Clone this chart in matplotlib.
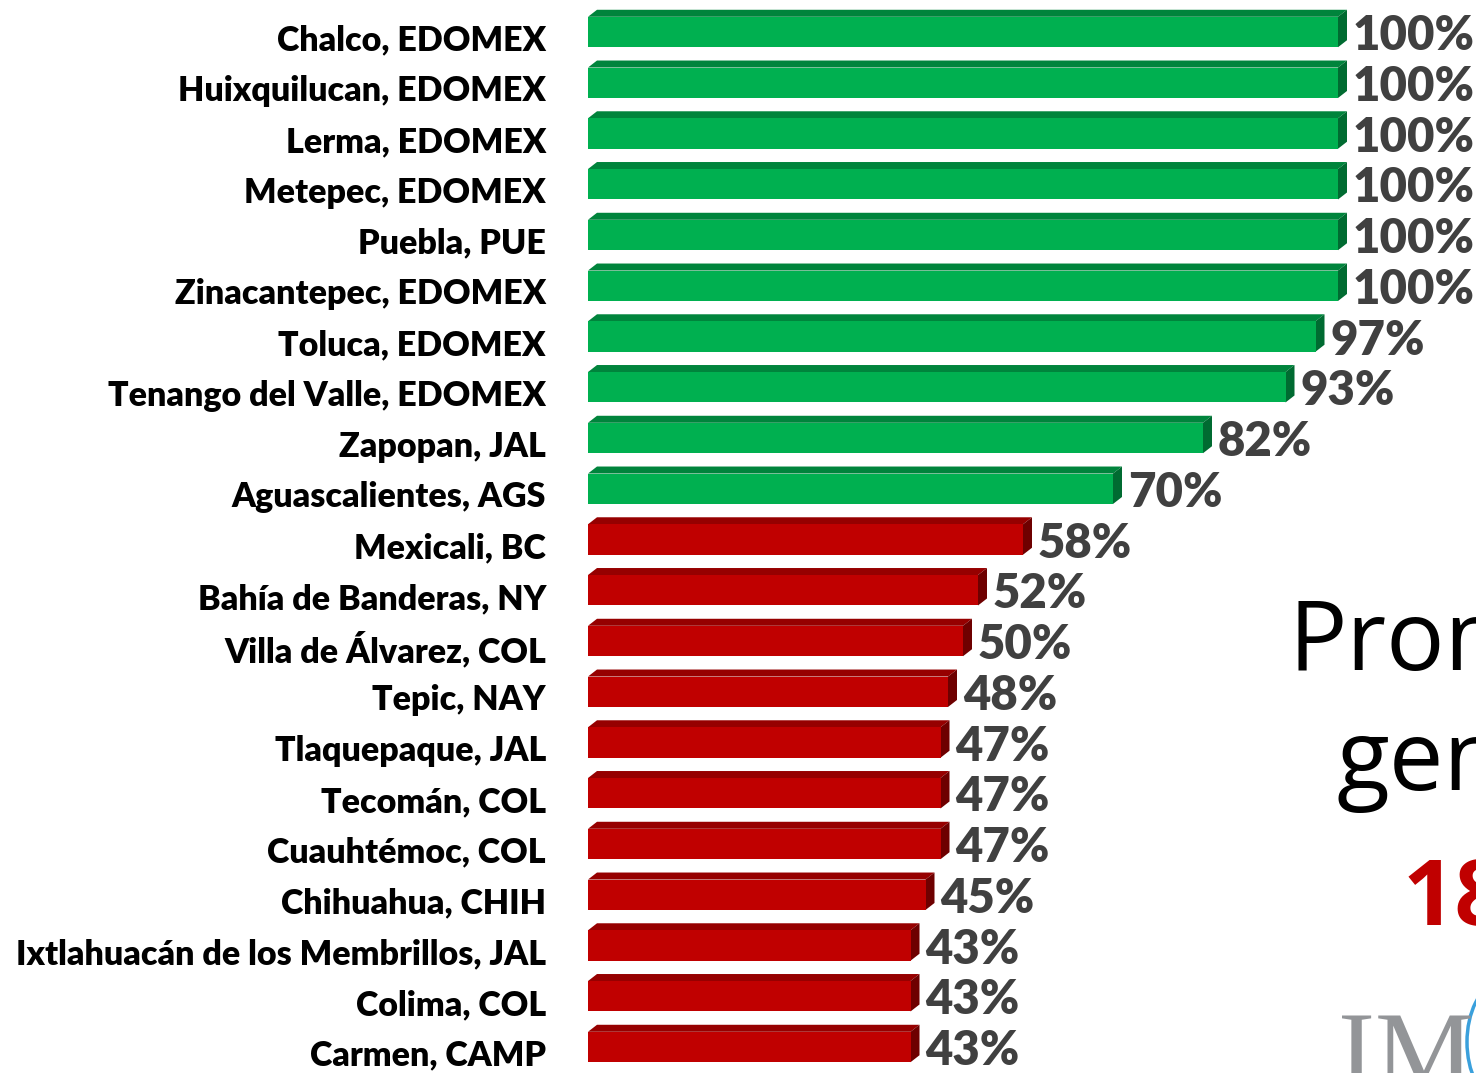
import matplotlib
matplotlib.use("Agg")
import matplotlib.pyplot as plt
import matplotlib.patches as mpatches

# ---------- data ----------
municipios = [
    "Chalco, EDOMEX", "Huixquilucan, EDOMEX", "Lerma, EDOMEX", "Metepec, EDOMEX",
    "Puebla, PUE", "Zinacantepec, EDOMEX", "Toluca, EDOMEX",
    "Tenango del Valle, EDOMEX", "Zapopan, JAL", "Aguascalientes, AGS",
    "Mexicali, BC", "Bahía de Banderas, NY", "Villa de Álvarez, COL",
    "Tepic, NAY", "Tlaquepaque, JAL", "Tecomán, COL", "Cuauhtémoc, COL",
    "Chihuahua, CHIH", "Ixtlahuacán de los Membrillos, JAL", "Colima, COL",
    "Carmen, CAMP",
]
porcentajes = [100, 100, 100, 100, 100, 100, 97, 93, 82, 70,
               58, 52, 50, 48, 47, 47, 47, 45, 43, 43, 43]
umbral = 60  # verde arriba, rojo abajo

# ---------- colors ----------
verde = {"frente": "#00B050", "arriba": "#00843C", "lado": "#006B31"}
rojo = {"frente": "#C00000", "arriba": "#960000", "lado": "#6E0000"}

W, H = 1476, 1073
fig = plt.figure(figsize=(W / 100, H / 100), dpi=100)

# axes in pixel terms: x 0..100 -> 588..1338, rows centred every ~50.75 px
n = len(municipios)
paso = 50.75
top_px = 32 - paso / 2
ax = fig.add_axes([588 / W, 1 - (top_px + n * paso) / H, 750 / W, n * paso / H])
ax.set_xlim(0, 100)
ax.set_ylim(n - 0.5, -0.5)
ax.axis("off")

alto = 0.60
dx = 9 / 7.5          # depth in x data units (9 px)
dy = 7 / paso         # depth in rows (7 px)

for i, (nombre, v) in enumerate(zip(municipios, porcentajes)):
    c = verde if v >= umbral else rojo
    y0 = i - alto / 2
    y1 = i + alto / 2
    # top face
    ax.add_patch(mpatches.Polygon(
        [(0, y0), (v, y0), (v + dx, y0 - dy), (dx, y0 - dy)],
        closed=True, facecolor=c["arriba"], edgecolor="none", clip_on=False))
    # side face
    ax.add_patch(mpatches.Polygon(
        [(v, y0), (v + dx, y0 - dy), (v + dx, y1 - dy), (v, y1)],
        closed=True, facecolor=c["lado"], edgecolor="none", clip_on=False))
    # front face
    ax.barh(i, v, height=alto, left=0, color=c["frente"], clip_on=False)

    ax.text(v + dx + 0.8, i + 0.08, f"{v}%", ha="left", va="center",
            fontsize=34, fontweight="heavy", color="#404040",
            family="Lato", clip_on=False)
    ax.text(-5.6, i + 0.17, nombre, ha="right", va="center",
            fontsize=24.5, fontweight="heavy", color="black",
            family="Lato", clip_on=False)

# ---------- side panel (cut off by the slide edge) ----------
fig.text(1288 / W, 1 - 670 / H, "Promedio", fontsize=70, family="Open Sans",
         color="black", ha="left", va="baseline")
fig.text(1336 / W, 1 - 790 / H, "general", fontsize=70, family="Open Sans",
         color="black", ha="left", va="baseline")
fig.text(1403 / W, 1 - 925 / H, "18%", fontsize=66, family="Open Sans",
         fontweight="bold", color="#C00000", ha="left", va="baseline")
fig.text(1338 / W, 1 - 1088 / H, "IMCO", fontsize=80, family="Liberation Serif",
         color="#939598", ha="left", va="baseline")
fig.patches.append(mpatches.Arc((1502, H - 1042), 70, 120, theta1=95, theta2=265,
                                transform=None, color="#3AA0DC", lw=2.5))

fig.savefig("out.png", dpi=100)
